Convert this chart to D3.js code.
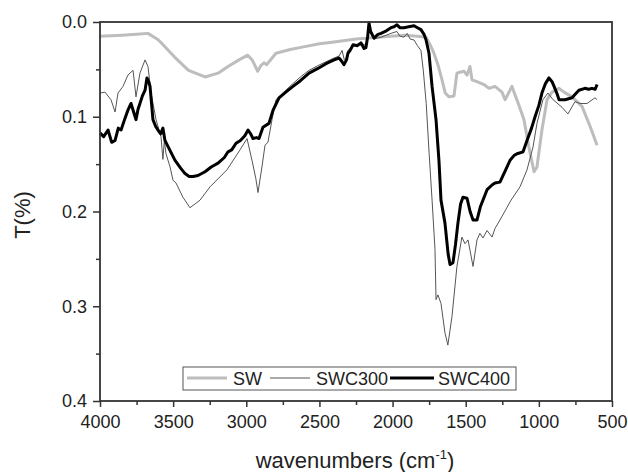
<!DOCTYPE html>
<html>
<head>
<meta charset="utf-8">
<script src="https://cdn.jsdelivr.net/npm/d3@7"></script>
<style>
  body { margin: 0; background: #fff; }
  svg { display: block; font-family: "Liberation Sans", Arial, sans-serif; }
</style>
</head>
<body>
<svg id="chart" width="628" height="472"></svg>
<script>
// ---- data ----
const seriesNames = ["SW", "SWC300", "SWC400"];
const xTicks = [4000, 3500, 3000, 2500, 2000, 1500, 1000, 500];
const yTicks = [0.0, 0.1, 0.2, 0.3, 0.4];

const swWave = [4000, 3850, 3750, 3672, 3600, 3490, 3395, 3282, 3193, 3125, 3050, 2990, 2960, 2922, 2900, 2879, 2860, 2845, 2797, 2700, 2600, 2500, 2400, 2250, 2100, 1922, 1830, 1771, 1740, 1717, 1690, 1662, 1640, 1614, 1580, 1560, 1540, 1512, 1491, 1471, 1457, 1423, 1375, 1341, 1300, 1252, 1231, 1184, 1136, 1102, 1068, 1033, 1013, 979, 944, 910, 862, 828, 773, 705, 650, 602];
const swT = [0.015, 0.014, 0.013, 0.012, 0.019, 0.037, 0.051, 0.058, 0.054, 0.047, 0.040, 0.035, 0.040, 0.052, 0.046, 0.043, 0.045, 0.042, 0.033, 0.029, 0.026, 0.023, 0.021, 0.018, 0.016, 0.014, 0.015, 0.016, 0.025, 0.033, 0.045, 0.061, 0.075, 0.079, 0.078, 0.054, 0.053, 0.052, 0.056, 0.047, 0.061, 0.063, 0.066, 0.070, 0.068, 0.074, 0.082, 0.068, 0.088, 0.103, 0.132, 0.158, 0.153, 0.114, 0.082, 0.074, 0.070, 0.074, 0.079, 0.089, 0.110, 0.130];

const swc300Wave = [4000, 3966, 3925, 3897, 3877, 3843, 3809, 3774, 3754, 3727, 3692, 3672, 3651, 3617, 3583, 3570, 3560, 3549, 3521, 3501, 3480, 3433, 3385, 3350, 3316, 3248, 3132, 3043, 2995, 2961, 2935, 2920, 2893, 2872, 2852, 2824, 2797, 2730, 2681, 2630, 2571, 2510, 2455, 2400, 2366, 2345, 2330, 2315, 2305, 2270, 2216, 2182, 2161, 2127, 2079, 2011, 1970, 1950, 1922, 1900, 1880, 1853, 1830, 1806, 1790, 1770, 1750, 1730, 1710, 1703, 1690, 1669, 1642, 1622, 1594, 1560, 1526, 1505, 1484, 1450, 1423, 1403, 1382, 1354, 1320, 1300, 1266, 1190, 1129, 1081, 1040, 1013, 972, 938, 903, 842, 801, 753, 719, 671, 616, 602];
const swc300T = [0.075, 0.074, 0.082, 0.095, 0.075, 0.068, 0.056, 0.051, 0.079, 0.054, 0.040, 0.047, 0.075, 0.103, 0.121, 0.145, 0.125, 0.139, 0.153, 0.167, 0.170, 0.185, 0.196, 0.192, 0.188, 0.174, 0.156, 0.135, 0.123, 0.146, 0.165, 0.180, 0.153, 0.130, 0.127, 0.103, 0.082, 0.072, 0.065, 0.058, 0.051, 0.046, 0.042, 0.038, 0.036, 0.030, 0.040, 0.038, 0.030, 0.025, 0.022, 0.025, 0.005, 0.018, 0.016, 0.012, 0.010, 0.015, 0.016, 0.012, 0.018, 0.019, 0.025, 0.030, 0.051, 0.086, 0.139, 0.188, 0.240, 0.293, 0.288, 0.297, 0.328, 0.341, 0.311, 0.258, 0.227, 0.234, 0.230, 0.258, 0.230, 0.223, 0.228, 0.220, 0.227, 0.218, 0.209, 0.188, 0.174, 0.156, 0.132, 0.107, 0.082, 0.075, 0.082, 0.090, 0.097, 0.084, 0.086, 0.086, 0.080, 0.082];

const swc400Wave = [4000, 3975, 3945, 3920, 3897, 3875, 3856, 3830, 3809, 3788, 3770, 3754, 3740, 3727, 3710, 3692, 3679, 3665, 3658, 3638, 3620, 3604, 3585, 3570, 3556, 3520, 3487, 3450, 3419, 3390, 3364, 3330, 3282, 3240, 3193, 3150, 3125, 3100, 3070, 3040, 3010, 2988, 2970, 2954, 2930, 2913, 2886, 2845, 2817, 2776, 2730, 2681, 2630, 2571, 2510, 2455, 2400, 2366, 2345, 2332, 2315, 2305, 2290, 2270, 2240, 2216, 2195, 2182, 2170, 2161, 2150, 2127, 2100, 2079, 2050, 2011, 1990, 1970, 1950, 1922, 1890, 1853, 1830, 1806, 1785, 1771, 1751, 1730, 1703, 1683, 1669, 1642, 1620, 1607, 1587, 1570, 1553, 1535, 1519, 1491, 1470, 1450, 1423, 1400, 1354, 1320, 1300, 1266, 1230, 1197, 1170, 1149, 1108, 1081, 1050, 1026, 1000, 979, 955, 931, 910, 896, 875, 862, 821, 773, 750, 726, 685, 660, 637, 615, 602];
const swc400T = [0.117, 0.121, 0.114, 0.127, 0.125, 0.112, 0.114, 0.102, 0.093, 0.086, 0.095, 0.103, 0.092, 0.086, 0.078, 0.072, 0.059, 0.064, 0.068, 0.103, 0.110, 0.114, 0.118, 0.112, 0.125, 0.136, 0.146, 0.154, 0.160, 0.163, 0.163, 0.162, 0.158, 0.153, 0.149, 0.143, 0.137, 0.135, 0.128, 0.125, 0.120, 0.114, 0.118, 0.123, 0.122, 0.123, 0.111, 0.107, 0.093, 0.080, 0.074, 0.068, 0.062, 0.054, 0.049, 0.044, 0.040, 0.038, 0.042, 0.045, 0.040, 0.033, 0.030, 0.024, 0.025, 0.022, 0.028, 0.027, 0.015, 0.001, 0.010, 0.017, 0.013, 0.012, 0.010, 0.006, 0.005, 0.003, 0.006, 0.006, 0.005, 0.004, 0.006, 0.008, 0.013, 0.019, 0.033, 0.068, 0.103, 0.146, 0.188, 0.212, 0.245, 0.256, 0.254, 0.235, 0.212, 0.192, 0.185, 0.186, 0.200, 0.209, 0.209, 0.195, 0.177, 0.172, 0.170, 0.169, 0.157, 0.146, 0.141, 0.139, 0.137, 0.125, 0.112, 0.100, 0.088, 0.075, 0.065, 0.059, 0.063, 0.068, 0.076, 0.082, 0.082, 0.080, 0.076, 0.072, 0.070, 0.071, 0.070, 0.071, 0.066];

// ---- layout ----
const svg = d3.select("#chart");
const L = 100, R = 612, T = 22, B = 401;
const x = d3.scaleLinear().domain([4000, 500]).range([L, R]);
const y = d3.scaleLinear().domain([0, 0.4]).range([T, B]);

const series = [
  { name: seriesNames[0], wave: swWave, t: swT, color: "#bdbdbd", width: 3 },
  { name: seriesNames[1], wave: swc300Wave, t: swc300T, color: "#555555", width: 1 },
  { name: seriesNames[2], wave: swc400Wave, t: swc400T, color: "#000000", width: 3 }
];

const line = d3.line().x(d => x(d[0])).y(d => y(d[1]));

series.forEach(s => {
  svg.append("path")
    .datum(s.wave.map((w, i) => [w, s.t[i]]))
    .attr("fill", "none")
    .attr("stroke", s.color)
    .attr("stroke-width", s.width)
    .attr("stroke-linejoin", "round")
    .attr("d", line);
});

// ---- axes ----
const axisColor = "#333";
const xMinor = d3.range(4000, 499, -250).filter(v => v % 500 !== 0);
const yMinor = [0.05, 0.15, 0.25, 0.35];

const xAxis = svg.append("g").attr("transform", `translate(0,${B})`)
  .call(d3.axisBottom(x).tickValues(xTicks).tickFormat(d3.format("d")).tickSize(6).tickPadding(8));
const xAxisMinor = svg.append("g").attr("transform", `translate(0,${B})`)
  .call(d3.axisBottom(x).tickValues(xMinor).tickFormat("").tickSize(4));
const yAxis = svg.append("g").attr("transform", `translate(${L},0)`)
  .call(d3.axisLeft(y).tickValues(yTicks).tickFormat(d3.format(".1f")).tickSize(7).tickPadding(6));
const yAxisMinor = svg.append("g").attr("transform", `translate(${L},0)`)
  .call(d3.axisLeft(y).tickValues(yMinor).tickFormat("").tickSize(4));

[xAxis, xAxisMinor, yAxis, yAxisMinor].forEach(g => {
  g.select(".domain").remove();
  g.selectAll("line").attr("stroke", axisColor).attr("stroke-width", 1.5);
  g.selectAll("text").attr("fill", "#222").style("font-size", "18px")
    .style("font-family", "'Liberation Sans', Arial, sans-serif");
});

// frame
svg.append("rect")
  .attr("x", L).attr("y", T).attr("width", R - L).attr("height", B - T)
  .attr("fill", "none").attr("stroke", axisColor).attr("stroke-width", 1.8);

// axis titles
const xt = svg.append("text")
  .attr("x", 355).attr("y", 468)
  .attr("text-anchor", "middle")
  .style("font-size", "22px").attr("fill", "#222");
xt.append("tspan").text("wavenumbers (cm");
xt.append("tspan").attr("dy", -9).style("font-size", "13px").text("-1");
xt.append("tspan").attr("dy", 9).text(")");

svg.append("text")
  .attr("transform", "translate(30,215) rotate(-90)")
  .attr("text-anchor", "middle")
  .style("font-size", "22px").attr("fill", "#222")
  .text("T(%)");

// ---- legend ----
const lg = svg.append("g");
lg.append("rect").attr("x", 183).attr("y", 367).attr("width", 333).attr("height", 23)
  .attr("fill", "#fff").attr("stroke", "#555").attr("stroke-width", 1);
const legendPos = [
  { x1: 187, x2: 227, tx: 233 },
  { x1: 270, x2: 310, tx: 316 },
  { x1: 390, x2: 434, tx: 438 }
];
series.forEach((s, i) => {
  const p = legendPos[i];
  lg.append("line").attr("x1", p.x1).attr("x2", p.x2).attr("y1", 378).attr("y2", 378)
    .attr("stroke", s.color).attr("stroke-width", s.width);
  lg.append("text").attr("x", p.tx).attr("y", 385)
    .style("font-size", "18px").attr("fill", "#222").text(s.name);
});
</script>
</body>
</html>
